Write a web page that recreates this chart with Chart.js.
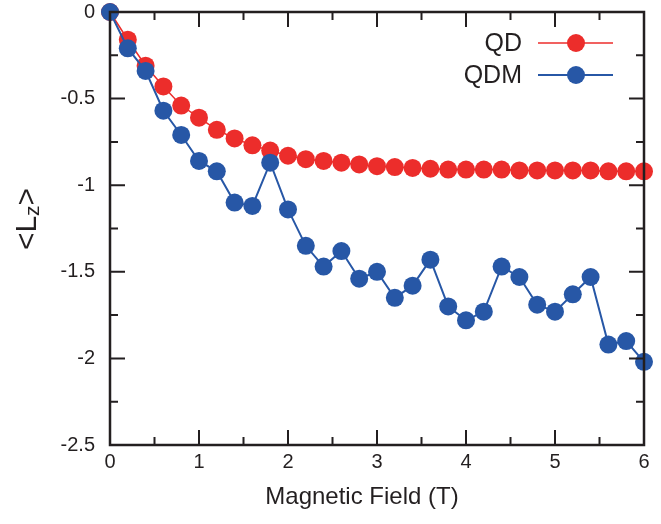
<!DOCTYPE html>
<html>
<head>
<meta charset="utf-8">
<script src="https://cdn.jsdelivr.net/npm/chart.js@4.4.0/dist/chart.umd.min.js"></script>
<style>
  body { margin: 0; background: #fff; }
  #wrap { width: 661px; height: 524px; }
</style>
</head>
<body>
<div id="wrap"><canvas id="myChart" width="661" height="524"></canvas></div>
<script>
const fieldT = [0, 0.2, 0.4, 0.6, 0.8, 1, 1.2, 1.4, 1.6, 1.8, 2, 2.2, 2.4, 2.6, 2.8, 3,
  3.2, 3.4, 3.6, 3.8, 4, 4.2, 4.4, 4.6, 4.8, 5, 5.2, 5.4, 5.6, 5.8, 6];
const qdValues = [0, -0.16, -0.31, -0.43, -0.54, -0.61, -0.68, -0.73, -0.77, -0.80, -0.83,
  -0.85, -0.86, -0.87, -0.88, -0.89, -0.895, -0.90, -0.905, -0.91, -0.91, -0.91, -0.91,
  -0.915, -0.915, -0.915, -0.915, -0.915, -0.92, -0.92, -0.92];
const qdmValues = [0, -0.21, -0.34, -0.57, -0.71, -0.86, -0.92, -1.10, -1.12, -0.87, -1.14,
  -1.35, -1.47, -1.38, -1.54, -1.50, -1.65, -1.58, -1.43, -1.70, -1.78, -1.73, -1.47,
  -1.53, -1.69, -1.73, -1.63, -1.53, -1.92, -1.90, -2.02];
const xTicks = [0, 1, 2, 3, 4, 5, 6];
const yTicks = [0, -0.5, -1, -1.5, -2, -2.5];

const red = "#ec2d2b";
const blue = "#2757a6";
const ink = "#231f20";
const fontName = "'Liberation Sans', Arial, sans-serif";

// frame, inward ticks, axis titles and legend
const decor = {
  id: "decor",
  afterDatasetsDraw(chart) {
    const { ctx, chartArea: a, scales: { x, y } } = chart;
    ctx.save();
    ctx.strokeStyle = ink;
    ctx.lineWidth = 2;
    for (let v = 0; v <= 6.001; v += 0.5) {
      const px = x.getPixelForValue(v);
      const len = Math.abs(v - Math.round(v)) < 0.01 ? 15 : 8;
      ctx.beginPath();
      ctx.moveTo(px, a.bottom); ctx.lineTo(px, a.bottom - len);
      ctx.moveTo(px, a.top); ctx.lineTo(px, a.top + len);
      ctx.stroke();
    }
    for (let v = 0; v >= -2.501; v -= 0.25) {
      const py = y.getPixelForValue(v);
      const len = Math.abs(v * 2 - Math.round(v * 2)) < 0.01 ? 15 : 8;
      ctx.beginPath();
      ctx.moveTo(a.left, py); ctx.lineTo(a.left + len, py);
      ctx.moveTo(a.right, py); ctx.lineTo(a.right - len, py);
      ctx.stroke();
    }
    ctx.lineWidth = 2.5;
    ctx.strokeRect(a.left, a.top, a.right - a.left, a.bottom - a.top);

    // x title
    ctx.fillStyle = ink;
    ctx.font = "24px " + fontName;
    ctx.textAlign = "center";
    ctx.textBaseline = "alphabetic";
    ctx.fillText("Magnetic Field (T)", 362, 504);

    // y title <Lz>
    ctx.save();
    ctx.translate(36, 219);
    ctx.rotate(-Math.PI / 2);
    const p1 = "<L", sub = "z", p2 = ">";
    ctx.font = "30px " + fontName;
    const w1 = ctx.measureText(p1).width, w3 = ctx.measureText(p2).width;
    ctx.font = "21px " + fontName;
    const w2 = ctx.measureText(sub).width;
    let sx = -(w1 + w2 + w3) / 2;
    ctx.textAlign = "left";
    ctx.font = "30px " + fontName;
    ctx.fillText(p1, sx, 0);
    ctx.font = "21px " + fontName;
    ctx.fillText(sub, sx + w1, 3);
    ctx.font = "30px " + fontName;
    ctx.fillText(p2, sx + w1 + w2, 0);
    ctx.restore();

    // legend
    const items = [["QD", red, 43, 1.5], ["QDM", blue, 75, 2]];
    ctx.font = "25px " + fontName;
    ctx.textAlign = "right";
    ctx.textBaseline = "middle";
    items.forEach(([label, col, ly, lw]) => {
      ctx.fillStyle = ink;
      ctx.fillText(label, 522, ly + 1);
      ctx.strokeStyle = col;
      ctx.lineWidth = lw;
      ctx.beginPath();
      ctx.moveTo(538, ly); ctx.lineTo(613, ly);
      ctx.stroke();
      ctx.fillStyle = col;
      ctx.beginPath();
      ctx.arc(576, ly, 9, 0, Math.PI * 2);
      ctx.fill();
    });
    ctx.restore();
  },
};

const ctx = document.getElementById("myChart").getContext("2d");
const myChart = new Chart(ctx, {
  type: "line",
  data: {
    datasets: [
      {
        label: "QD",
        data: fieldT.map((t, i) => ({ x: t, y: qdValues[i] })),
        borderColor: red,
        backgroundColor: red,
        borderWidth: 1.5,
        pointRadius: 9,
        pointBorderWidth: 0,
        pointBackgroundColor: red,
        tension: 0,
        order: 2,
      },
      {
        label: "QDM",
        data: fieldT.map((t, i) => ({ x: t, y: qdmValues[i] })),
        borderColor: blue,
        backgroundColor: blue,
        borderWidth: 2,
        pointRadius: 9,
        pointBorderWidth: 0,
        pointBackgroundColor: blue,
        tension: 0,
        order: 1,
      },
    ],
  },
  options: {
    responsive: false,
    animation: false,
    clip: false,
    layout: { padding: { top: 12, right: 17, left: 0, bottom: 0 } },
    plugins: { legend: { display: false }, tooltip: { enabled: false } },
    scales: {
      x: {
        type: "linear",
        min: 0,
        max: 6,
        grid: { display: false, drawTicks: false },
        border: { display: false },
        afterBuildTicks: (s) => { s.ticks = xTicks.map((v) => ({ value: v })); },
        afterFit: (s) => { s.height = 79; s.paddingLeft = 0; s.paddingRight = 0; },
        ticks: { color: ink, padding: 5, font: { family: fontName, size: 20 },
          callback: (v) => String(v) },
      },
      y: {
        type: "linear",
        min: -2.5,
        max: 0,
        grid: { display: false, drawTicks: false },
        border: { display: false },
        afterBuildTicks: (s) => { s.ticks = yTicks.map((v) => ({ value: v })); },
        afterFit: (s) => { s.width = 110; s.paddingTop = 0; s.paddingBottom = 0; },
        ticks: { color: ink, padding: 15, font: { family: fontName, size: 20 },
          callback: (v) => String(v) },
      },
    },
  },
  plugins: [decor],
});
</script>
</body>
</html>
